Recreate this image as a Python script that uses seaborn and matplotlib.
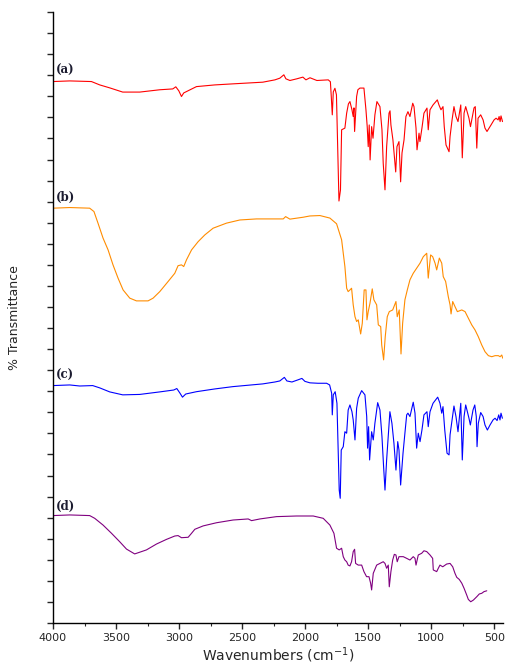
import pandas as pd
import seaborn as sns
import matplotlib.pyplot as plt

# FTIR spectra, offset vertically (arbitrary % transmittance units)
wn_a = [4000, 3867, 3695, 3629, 3550, 3447, 3312, 3153, 3050, 3026,
        3002, 2981, 2963, 2862, 2717, 2574, 2336, 2240, 2201, 2169,
        2153, 2121, 2066, 2018, 1994, 1962, 1907, 1817, 1800, 1793,
        1785, 1777, 1764, 1752, 1732, 1720, 1711, 1685, 1671, 1657,
        1645, 1629, 1619, 1613, 1608, 1592, 1582, 1566, 1534, 1518,
        1508, 1500, 1492, 1485, 1473, 1462, 1447, 1431, 1407, 1391,
        1381, 1367, 1354, 1335, 1327, 1320, 1304, 1282, 1272, 1256,
        1243, 1232, 1216, 1201, 1185, 1169, 1147, 1137, 1121, 1113,
        1097, 1090, 1074, 1058, 1034, 1024, 1010, 986, 952, 939,
        923, 907, 897, 883, 859, 851, 835, 820, 804, 788,
        766, 754, 740, 727, 701, 689, 661, 651, 639, 629,
        608, 589, 574, 558, 526, 502, 486, 470, 462, 454,
        447, 435]
t_a = [25.70, 25.73, 25.70, 25.54, 25.40, 25.20, 25.20, 25.31, 25.35, 25.45,
       25.26, 24.99, 25.16, 25.46, 25.54, 25.59, 25.67, 25.78, 25.86, 26.02,
       25.83, 25.75, 25.83, 25.91, 25.78, 25.88, 25.75, 25.78, 25.69, 24.99,
       24.12, 25.21, 25.38, 25.07, 20.03, 20.56, 23.41, 23.49, 24.20, 24.64,
       24.75, 24.36, 24.04, 24.45, 23.33, 24.99, 25.31, 25.39, 25.39, 24.36,
       23.56, 22.61, 23.64, 21.98, 23.56, 23.01, 24.12, 24.75, 24.51, 23.41,
       21.82, 20.56, 22.61, 24.20, 24.31, 23.64, 22.93, 21.41, 22.61, 22.85,
       20.94, 22.31, 22.93, 24.04, 24.27, 24.04, 24.67, 24.51, 23.49, 22.46,
       23.25, 22.85, 23.49, 24.20, 24.44, 23.41, 24.36, 24.59, 24.83, 24.59,
       24.36, 24.51, 23.56, 22.69, 22.37, 23.09, 23.88, 24.51, 24.04, 23.80,
       24.59, 22.08, 24.20, 24.51, 23.96, 23.56, 24.45, 24.51, 22.54, 23.96,
       24.12, 23.88, 23.49, 23.33, 23.64, 23.88, 23.96, 23.88, 24.04, 23.80,
       24.07, 23.80]

wn_b = [4000, 3867, 3709, 3675, 3643, 3603, 3563, 3524, 3484, 3444,
        3391, 3338, 3246, 3206, 3153, 3087, 3034, 3008, 2981, 2963,
        2941, 2901, 2849, 2796, 2730, 2624, 2518, 2386, 2174, 2155,
        2121, 2016, 1963, 1883, 1804, 1751, 1711, 1685, 1671, 1659,
        1645, 1632, 1619, 1605, 1592, 1579, 1560, 1547, 1532, 1518,
        1510, 1500, 1486, 1468, 1455, 1433, 1420, 1401, 1393, 1378,
        1365, 1349, 1333, 1306, 1280, 1270, 1254, 1240, 1227, 1209,
        1190, 1169, 1143, 1116, 1089, 1063, 1036, 1024, 1005, 989,
        970, 957, 936, 917, 905, 886, 865, 851, 843, 830,
        812, 793, 758, 732, 706, 679, 653, 627, 600, 574,
        547, 520, 494, 468, 454, 441, 433]
t_b = [19.69, 19.72, 19.69, 19.53, 18.98, 18.27, 17.71, 17.00, 16.37, 15.81,
       15.42, 15.29, 15.29, 15.42, 15.73, 16.21, 16.60, 16.96, 17.00, 16.92,
       17.24, 17.71, 18.10, 18.42, 18.74, 18.98, 19.13, 19.18, 19.18, 19.29,
       19.17, 19.26, 19.32, 19.34, 19.22, 18.95, 18.19, 16.92, 15.89, 15.73,
       15.81, 15.89, 15.10, 14.54, 14.31, 14.39, 13.72, 14.23, 15.81, 15.81,
       14.39, 14.78, 15.18, 15.86, 15.34, 15.10, 14.15, 14.07, 13.20, 12.49,
       13.59, 14.54, 14.78, 14.86, 15.26, 14.54, 14.86, 12.77, 14.23, 15.34,
       15.81, 16.29, 16.60, 16.84, 17.08, 17.39, 17.55, 16.37, 17.47, 17.39,
       17.08, 16.76, 17.32, 17.08, 16.44, 16.21, 15.49, 15.10, 14.67, 15.26,
       15.02, 14.78, 14.86, 14.78, 14.47, 14.15, 13.91, 13.59, 13.20, 12.88,
       12.69, 12.64, 12.69, 12.69, 12.64, 12.72, 12.57]

wn_c = [4000, 3867, 3788, 3685, 3629, 3550, 3447, 3312, 3153, 3042,
        3018, 2994, 2973, 2947, 2862, 2717, 2574, 2336, 2240, 2201,
        2165, 2145, 2105, 2058, 2026, 2002, 1962, 1899, 1830, 1806,
        1790, 1785, 1777, 1762, 1748, 1730, 1722, 1714, 1698, 1685,
        1671, 1659, 1645, 1629, 1619, 1605, 1592, 1579, 1552, 1526,
        1512, 1505, 1497, 1489, 1473, 1460, 1447, 1425, 1407, 1391,
        1378, 1367, 1354, 1328, 1312, 1296, 1280, 1266, 1256, 1243,
        1224, 1209, 1195, 1185, 1169, 1143, 1129, 1116, 1103, 1089,
        1074, 1058, 1034, 1024, 1010, 986, 949, 931, 917, 907,
        893, 875, 859, 851, 835, 820, 804, 788, 766, 754,
        740, 727, 701, 690, 669, 655, 643, 637, 627, 608,
        589, 574, 555, 534, 510, 494, 478, 465, 455, 447,
        436]
t_c = [11.27, 11.30, 11.25, 11.27, 11.16, 10.97, 10.83, 10.85, 10.97, 11.06,
       11.13, 10.92, 10.72, 10.87, 10.98, 11.11, 11.22, 11.35, 11.44, 11.49,
       11.66, 11.49, 11.44, 11.54, 11.61, 11.47, 11.40, 11.38, 11.38, 11.30,
       10.91, 9.88, 10.83, 10.98, 10.43, 6.31, 5.92, 8.21, 8.37, 9.08,
       9.01, 10.11, 10.35, 10.03, 9.64, 8.69, 10.19, 10.67, 11.03, 10.83,
       9.80, 8.30, 9.32, 7.74, 9.08, 8.69, 9.48, 10.46, 10.11, 8.85,
       7.42, 6.31, 7.74, 10.03, 9.48, 8.53, 7.26, 8.61, 8.21, 6.55,
       8.06, 9.01, 9.88, 9.96, 9.80, 10.48, 9.96, 8.30, 9.01, 8.61,
       9.16, 9.88, 10.03, 9.32, 10.03, 10.43, 10.72, 10.43, 9.96, 10.27,
       9.16, 8.06, 7.98, 8.93, 9.64, 10.30, 9.80, 9.08, 10.43, 7.74,
       9.80, 10.35, 9.72, 9.40, 10.11, 10.35, 9.80, 8.37, 9.48, 9.99,
       9.80, 9.40, 9.16, 9.40, 9.64, 9.72, 9.61, 9.88, 9.64, 9.96,
       9.72]

wn_d = [4000, 3867, 3709, 3669, 3603, 3536, 3471, 3417, 3352, 3259,
        3179, 3100, 3034, 3008, 2981, 2928, 2901, 2875, 2809, 2703,
        2571, 2452, 2425, 2359, 2227, 2068, 1936, 1857, 1804, 1772,
        1751, 1730, 1711, 1698, 1685, 1671, 1659, 1645, 1632, 1619,
        1608, 1600, 1579, 1552, 1534, 1513, 1494, 1481, 1473, 1460,
        1433, 1407, 1381, 1367, 1354, 1341, 1333, 1320, 1306, 1293,
        1280, 1270, 1256, 1222, 1195, 1169, 1143, 1129, 1121, 1103,
        1076, 1058, 1036, 1010, 989, 984, 957, 944, 931, 909,
        878, 851, 830, 812, 798, 778, 758, 740, 719, 706,
        687, 666, 639, 619, 600, 582, 560]
t_d = [5.10, 5.13, 5.10, 4.97, 4.65, 4.26, 3.86, 3.51, 3.28, 3.47,
       3.75, 3.97, 4.13, 4.15, 4.05, 4.07, 4.26, 4.45, 4.61, 4.76,
       4.89, 4.94, 4.86, 4.94, 5.05, 5.08, 5.08, 4.97, 4.65, 4.26,
       3.55, 3.47, 3.55, 3.15, 2.99, 2.91, 2.75, 2.71, 2.91, 3.39,
       3.50, 2.83, 2.75, 2.75, 2.44, 2.20, 2.20, 1.89, 1.57, 2.36,
       2.75, 2.83, 2.91, 2.83, 2.60, 2.75, 1.72, 2.44, 2.99, 3.26,
       3.23, 2.91, 3.15, 3.15, 3.07, 2.99, 3.15, 3.07, 2.75, 3.23,
       3.31, 3.43, 3.39, 3.23, 3.07, 2.52, 2.44, 2.60, 2.75, 2.67,
       2.80, 2.83, 2.67, 2.36, 2.17, 2.07, 1.89, 1.65, 1.33, 1.12,
       1.01, 1.09, 1.25, 1.38, 1.41, 1.49, 1.53]

samples = ['(a)', '(b)', '(c)', '(d)']
colors = ['#ff0000', '#ff8c00', '#0000ff', '#800080']
label_y = [26.23, 20.18, 11.73, 5.55]

frames = []
for name, wn, t in zip(samples, [wn_a, wn_b, wn_c, wn_d], [t_a, t_b, t_c, t_d]):
    frames.append(pd.DataFrame({'wavenumber': wn, 'transmittance': t, 'sample': name}))
df = pd.concat(frames, ignore_index=True)

sns.set_style('ticks')
plt.rcParams['font.family'] = ['DejaVu Sans']

fig = plt.figure(figsize=(5.06, 6.64), dpi=100)
ax = fig.add_axes([0.1047, 0.0617, 0.8894, 0.9202])

sns.lineplot(data=df, x='wavenumber', y='transmittance', hue='sample',
             palette=colors, sort=False, estimator=None, linewidth=0.8,
             legend=False, ax=ax)

for name, y in zip(samples, label_y):
    ax.text(3978, y, name, ha='left', va='center', fontsize=8.5,
            fontweight='bold', family='DejaVu Serif', color='#1c1c30')

ax.set_xlim(4000, 431)
ax.set_ylim(0, 29)
ax.set_xticks(range(4000, 499, -500))
ax.set_xticks(range(3750, 499, -500), minor=True)
ax.set_yticks(range(0, 30))
ax.set_yticklabels([])
ax.tick_params(axis='x', which='major', length=4, width=1, labelsize=8, pad=3)
ax.tick_params(axis='x', which='minor', length=2.5, width=0.8)
ax.tick_params(axis='y', length=4.5, width=1)
sns.despine(ax=ax)
for s in ['left', 'bottom']:
    ax.spines[s].set_linewidth(1)
    ax.spines[s].set_color('black')

ax.set_xlabel('Wavenumbers (cm$^{-1}$)', fontsize=10, labelpad=2)
ax.set_ylabel('% Transmittance', fontsize=9, labelpad=15)

fig.savefig('out.png', dpi=100)
